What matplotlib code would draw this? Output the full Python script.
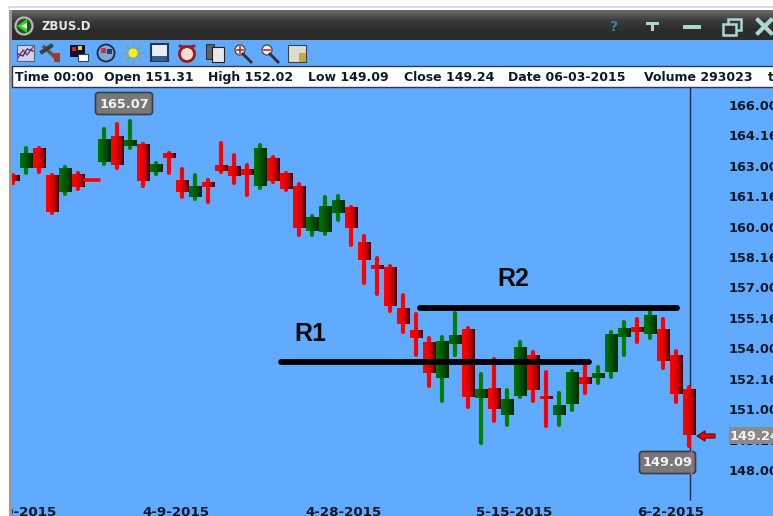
import numpy as np
import matplotlib
matplotlib.use("Agg")
import matplotlib.pyplot as plt
from matplotlib.colors import LinearSegmentedColormap
from matplotlib.patches import Rectangle, FancyBboxPatch, Circle, Polygon

# Candle values (decimal prices, labels use 32nds)
opens = [162.50, 162.89, 163.83, 162.50, 161.71, 162.60, 162.40, 163.19, 164.47, 163.98,
         164.03, 162.70, 163.59, 162.30, 161.46, 162.20, 163.04, 162.99, 162.80, 162.01,
         163.34, 162.60, 162.01, 159.79, 159.74, 160.68, 160.97, 159.24, 158.06, 158.01,
         155.94, 154.90, 154.26, 152.54, 154.21, 154.95, 151.55, 152.04, 150.71, 151.65,
         153.67, 151.60, 150.71, 151.26, 152.54, 152.54, 152.83, 154.56, 155.05, 154.71,
         154.95, 153.67, 151.95]
highs = [162.55, 163.88, 163.88, 162.55, 162.94, 162.65, 162.40, 164.82, 165.06, 165.22,
         164.08, 163.14, 163.63, 162.85, 162.55, 162.30, 164.13, 163.54, 163.04, 164.03,
         163.44, 162.65, 162.11, 160.53, 161.46, 161.51, 160.97, 159.54, 158.46, 158.06,
         156.63, 155.69, 154.51, 154.56, 155.74, 155.00, 152.73, 153.47, 151.95, 154.31,
         153.82, 152.83, 151.80, 152.88, 153.13, 153.08, 154.81, 155.30, 155.45, 155.84,
         155.45, 153.87, 152.08]
lows = [162.15, 162.65, 162.70, 160.68, 161.61, 161.86, 162.25, 163.09, 162.89, 163.88,
        162.01, 162.60, 162.65, 161.46, 161.37, 161.22, 162.70, 162.15, 161.56, 161.91,
        162.20, 161.81, 159.59, 159.59, 159.64, 160.33, 159.10, 157.22, 156.68, 155.84,
        154.81, 153.67, 152.14, 151.40, 153.67, 151.11, 149.33, 150.42, 150.22, 151.60,
        151.40, 150.17, 150.22, 150.96, 151.80, 152.29, 152.59, 153.67, 154.31, 154.51,
        153.03, 151.35, 149.20]
closes = [162.25, 163.59, 162.89, 160.72, 162.89, 161.96, 162.25, 164.28, 163.04, 164.23,
          162.25, 163.09, 163.39, 161.71, 161.96, 161.96, 162.75, 162.50, 162.55, 163.88,
          162.25, 161.86, 159.94, 160.48, 161.02, 161.32, 159.94, 158.36, 157.91, 156.09,
          155.20, 154.51, 152.78, 154.36, 154.61, 151.60, 151.95, 151.01, 151.45, 154.02,
          151.95, 151.50, 151.16, 152.83, 152.24, 152.78, 154.66, 155.00, 154.81, 155.60,
          153.38, 151.75, 149.72]
doji_candles = [6]

price_ticks = [166.0, 164.5, 163.0, 161.5, 160.0, 158.5, 157.0, 155.5, 154.0, 152.5, 151.0, 149.5, 148.0]
price_labels = ["166.00", "164.16", "163.00", "161.16", "160.00", "158.16", "157.00",
                "155.16", "154.00", "152.16", "151.00", "149.16", "148.00"]
date_ticks = [0.4, 12.55, 25.45, 38.55, 50.55]
date_labels = ["3-20-2015", "4-9-2015", "4-28-2015", "5-15-2015", "6-2-2015"]

info_labels = ["Time 00:00", "Open 151.31", "High 152.02", "Low 149.09", "Close 149.24",
               "Date 06-03-2015", "Volume 293023", "t"]
info_x = [15, 104, 208, 308, 404, 508, 644, 768]

r1_level, r2_level = 153.33, 155.99
r1_span = [20.6, 44.3]
r2_span = [31.3, 51.1]

BLUE = "#60AAFF"
W, H = 773, 516
reds = LinearSegmentedColormap.from_list("r", ["#ff0000", "#f00000", "#c00000", "#3c0000"])
greens = LinearSegmentedColormap.from_list("g", ["#007800", "#006000", "#004800", "#002800"])
grad = np.linspace(0, 1, 32).reshape(1, -1)
BOLD = dict(family="DejaVu Sans", fontweight="bold")

fig = plt.figure(figsize=(W / 100, H / 100), dpi=100, facecolor="white")

# Window frame, drawn in pixels
bg = fig.add_axes([0, 0, 1, 1])
bg.add_patch(Rectangle((8, 6), W, 1.5, color="#d5ddf0", lw=0))
bg.add_patch(Rectangle((9, 40), W, H, color=BLUE, lw=0))
bg.add_patch(Rectangle((9, 10), 3, H, color="#9a9a9a", lw=0))
bg.imshow(np.linspace(0, 1, 30).reshape(-1, 1), extent=[9, W, 40, 10], aspect="auto",
          cmap=LinearSegmentedColormap.from_list("t", ["#6a6a6a", "#3c3c3c", "#2c2c2c", "#2c2c2c"]),
          origin="upper")
bg.set_xlim(0, W)
bg.set_ylim(H, 0)
bg.axis("off")

# Title bar
bg.add_patch(Circle((24, 26), 8.5, fc="#2a4a2a", ec="#b8b8b8", lw=1.6))
bg.add_patch(Polygon([[17, 26], [27, 19], [27, 33]], color="#30d030", lw=0))
bg.add_patch(Polygon([[21, 26], [27, 23], [27, 29]], color="#c8f8c8", lw=0))
bg.text(42, 26, "ZBUS.D", color="#e8e8e8", fontsize=8.4, va="center", **BOLD)
bg.text(614, 27, "?", color="#3f7f8f", fontsize=10, ha="center", va="center", **BOLD)
bg.add_patch(Rectangle((646, 22), 13, 3, color="#a8d8d0", lw=0))
bg.add_patch(Rectangle((651, 25), 3, 6, color="#a8d8d0", lw=0))
bg.add_patch(Rectangle((683, 25), 18, 4, color="#a8d8d0", lw=0))
bg.add_patch(Rectangle((728, 19), 13, 11, fc="none", ec="#a8d8d0", lw=1.8))
bg.add_patch(Rectangle((723, 24), 13, 11, fc="#2c2c2c", ec="#a8d8d0", lw=1.8))
bg.plot([758, 771], [20, 33], color="#a8d8d0", lw=3)
bg.plot([758, 771], [33, 20], color="#a8d8d0", lw=3)

# Toolbar icons, rough shapes
bg.add_patch(Rectangle((17, 45), 17, 16, fc="#c9d7ee", ec="#51617a", lw=0.8))
bg.plot([18, 23, 27, 33], [58, 50, 55, 47], color="#d02020", lw=1)
bg.plot([18, 23, 27, 33], [54, 56, 49, 51], color="#2030c0", lw=1)
bg.plot([44, 58], [47, 60], color="#705030", lw=2.5)
bg.plot([42, 51], [52, 46], color="#404040", lw=3)
bg.add_patch(Rectangle((54, 53), 6, 9, color="#e02020", lw=0))
bg.add_patch(Rectangle((70, 45), 15, 12, color="#101030", lw=0))
bg.add_patch(Rectangle((72, 47), 4, 4, color="#e02020", lw=0))
bg.add_patch(Rectangle((78, 46), 4, 4, color="#f0d020", lw=0))
bg.add_patch(Rectangle((78, 54), 10, 7, fc="white", ec="#404040", lw=0.8))
bg.add_patch(Circle((106, 53), 8.5, fc="#7fa8d8", ec="#202840", lw=1.3))
bg.add_patch(Rectangle((101, 48), 5, 5, color="#d03030", lw=0))
bg.add_patch(Rectangle((107, 49), 5, 5, color="#2a3a70", lw=0))
for a in np.arange(0, 2 * np.pi, np.pi / 4):
    bg.plot([133 + 6 * np.cos(a), 133 + 10 * np.cos(a)], [53 + 6 * np.sin(a), 53 + 10 * np.sin(a)],
            color="#a8a020", lw=1)
bg.add_patch(Circle((133, 53), 4.5, color="#fff000", lw=0))
bg.add_patch(Rectangle((151, 44), 17, 17, fc="#e8eef8", ec="#203858", lw=1.5))
bg.add_patch(Rectangle((152, 56), 15, 5, color="#385c88", lw=0))
bg.add_patch(Circle((187, 54), 7.5, fc="#f0e0d0", ec="#a01818", lw=2))
bg.plot([180, 184], [46, 47], color="#a01818", lw=2)
bg.plot([190, 194], [47, 46], color="#a01818", lw=2)
bg.add_patch(Rectangle((206, 44), 8, 15, fc="#606060", ec="#202020", lw=0.6))
bg.add_patch(Rectangle((212, 47), 12, 15, fc="#e8e8e8", ec="#202020", lw=0.8))
for cx in [240, 267]:
    bg.plot([cx + 3, cx + 11], [54, 62], color="#303030", lw=2)
    bg.add_patch(Circle((cx, 50), 5, fc="#f4f4f4", ec="#505050", lw=1))
    bg.plot([cx - 3, cx + 3], [50, 50], color="#d02020", lw=1.2)
bg.plot([240, 240], [47, 53], color="#d02020", lw=1.2)
bg.add_patch(Rectangle((288, 45), 18, 17, fc="#dcdcd0", ec="#404040", lw=0.8))
bg.add_patch(Rectangle((299, 53), 7, 9, color="#c8a838", lw=0))

bg.add_patch(Rectangle((12, 66), W, 21, fc="white", ec="#2a3a50", lw=1))
for label, x in zip(info_labels, info_x):
    bg.text(x, 77.5, label, color="#101828", fontsize=9.0, va="center", **BOLD)

# Price chart
ax = fig.add_axes([12 / W, 0, (W - 12) / W, (H - 88) / H])
ax.patch.set_alpha(0)
for s in ax.spines.values():
    s.set_visible(False)

idx = np.arange(len(opens))
ax.vlines(52.08, 146.52, 170, color="#1c2c46", lw=1, zorder=1)

for i in idx:
    rising = closes[i] > opens[i]
    if i in doji_candles:
        ax.plot([i - 0.5, i + 0.62], [(opens[i] + closes[i]) / 2] * 2, color="#ff0000", lw=2.6,
                solid_capstyle="round", zorder=3)
        continue
    ax.plot([i, i], [lows[i], highs[i]], color="#008000" if rising else "#ff0000", lw=3.0,
            solid_capstyle="round", zorder=2)
    ax.imshow(grad, extent=[i - 0.47, i + 0.47, min(opens[i], closes[i]), max(opens[i], closes[i])],
              aspect="auto", cmap=greens if rising else reds, interpolation="bilinear", zorder=3)

ax.plot(r1_span, [r1_level] * 2, color="black", lw=4.2, solid_capstyle="round", zorder=4)
ax.plot(r2_span, [r2_level] * 2, color="black", lw=4.2, solid_capstyle="round", zorder=4)

ax.set_xlim((12 - 13) / 13, (W - 13) / 13)
ax.set_ylim(148 - 46 / 20.278, 148 + 382 / 20.278)

ax.yaxis.tick_right()
ax.set_yticks(price_ticks, price_labels)
ax.tick_params(axis="y", length=0, pad=-31.7, labelsize=9.3, labelcolor="#101828")
ax.set_xticks(date_ticks, date_labels)
ax.tick_params(axis="x", length=0, pad=-7.5, labelsize=9.6, labelcolor="#101828")
for lab in ax.get_yticklabels():
    lab.set_family("DejaVu Sans")
    lab.set_fontweight("bold")
    lab.set_ha("left")
for lab in ax.get_xticklabels():
    lab.set_family("DejaVu Sans")
    lab.set_fontweight("bold")
    lab.set_clip_on(True)
    lab.set_clip_box(ax.bbox)

ax.text(22.85, r1_level + 1.37, "R1", fontsize=18, color="#0a0a0a", fontweight="bold",
        family="Liberation Sans", ha="center", va="center")
ax.text(38.45, r2_level + 1.41, "R2", fontsize=18, color="#0a0a0a", fontweight="bold",
        family="Liberation Sans", ha="center", va="center")

# Overlays in pixels, on top of the chart
top = fig.add_axes([0, 0, 1, 1])
top.set_xlim(0, W)
top.set_ylim(H, 0)
top.axis("off")
top.patch.set_alpha(0)
top.add_patch(FancyBboxPatch((97, 94), 54, 19, boxstyle="round,pad=1.5,rounding_size=3",
                             fc="#787878", ec="#3c3c3c", lw=1.2))
top.text(124, 104, f"{165.07:.2f}", color="#f4f4f4", fontsize=9.3, ha="center", va="center", **BOLD)
top.add_patch(FancyBboxPatch((641, 453), 53, 19, boxstyle="round,pad=1.5,rounding_size=3",
                             fc="#787878", ec="#3c3c3c", lw=1.2))
top.text(643, 463, f"{149.09:.2f}", color="#f4f4f4", fontsize=9.3, ha="left", va="center", **BOLD)
top.plot([690.5, 690.5], [451, 474], color="#d06090", lw=1)
top.add_patch(Rectangle((729, 427), 44, 17, color="#8a8a8a", lw=0))
top.text(730, 436, f"{149.24:.2f}", color="#f4f4f4", fontsize=9.3, ha="left", va="center", **BOLD)
top.add_patch(Polygon([[697, 436], [705, 431], [705, 434], [715, 434], [715, 438], [705, 438], [705, 441]],
                      fc="#f00000", ec="#700000", lw=0.8))

fig.savefig("out.png", dpi=100)
